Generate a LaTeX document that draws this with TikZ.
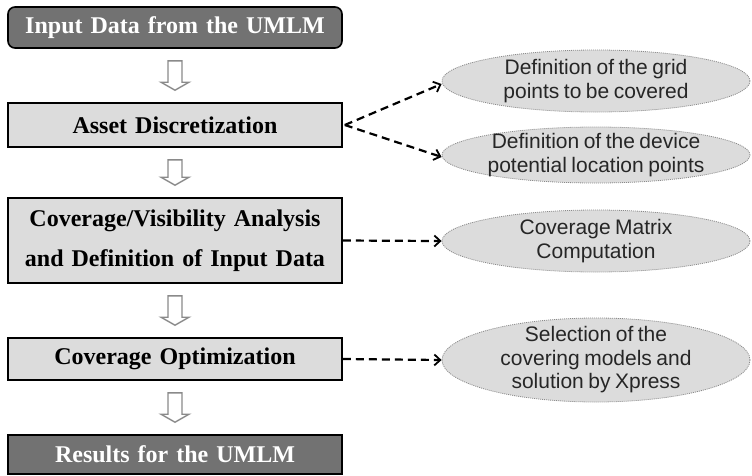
\documentclass[tikz,border=0pt]{standalone}
\usepackage{fontspec}
\setmainfont{Liberation Serif}
\newfontfamily\ellfont{Liberation Sans}
\usetikzlibrary{shapes.geometric,arrows.meta,calc}
\definecolor{darkbox}{HTML}{727272}
\definecolor{lightbox}{HTML}{DCDCDC}
\definecolor{arrgray}{HTML}{8A8A8A}
\newcommand\myboxfont{\fontsize{24}{40}\selectfont\bfseries\spaceskip=8pt plus 2pt minus 1pt\relax}
\newcommand\myellfont{\ellfont\fontsize{21}{23.5}\selectfont\spaceskip=4.5pt plus 1pt minus 1pt\relax}
\tikzset{
  stepbox/.style={draw=black, line width=1.6pt, fill=lightbox, minimum width=334pt,
    inner sep=0pt, align=center, font=\myboxfont, text=black},
  darkstep/.style={stepbox, fill=darkbox, text=white},
  ellbox/.style={ellipse, draw=arrgray, line width=0.8pt, dash pattern=on 1pt off 1pt,
    fill=lightbox, inner sep=0pt},
  elltext/.style={align=center, font=\myellfont, text=black!85, inner sep=0pt},
  dasharr/.style={draw=black, line width=2.2pt, dash pattern=on 8pt off 5pt,
    -{Straight Barb[length=6pt,width=11pt,line width=1.8pt]}},
  blockarr/.style={draw=arrgray, line width=1.4pt, fill=white, line join=miter},
}
\newcommand\blockarrow[2]{%
  \draw[blockarr] let \p1=($(#1.south)+(0,-12pt)$), \p2=($(#2.north)+(0,12pt)$) in
    (\x1-7pt,\y1) -- (\x1+7pt,\y1) -- (\x1+7pt,\y2+8pt) -- (\x1+14pt,\y2+8pt)
    -- (\x1,\y2) -- (\x1-14pt,\y2+8pt) -- (\x1-7pt,\y2+8pt) -- cycle;}
\begin{document}
\begin{tikzpicture}[x=1pt,y=1pt]
\useasboundingbox (0,0) rectangle (752,-475);
% main boxes
\node[darkstep, rounded corners=7pt, minimum height=41pt] (b1) at (175,-27.5) {Input Data from the UMLM};
\node[stepbox, minimum height=44pt] (b2) at (175,-125) {Asset Discretization};
\node[stepbox, minimum height=85pt] (b3) at (175,-240.5) {Coverage/Visibility Analysis\\and Definition of Input Data};
\node[stepbox, minimum height=42pt] (b4) at (175,-359) {Coverage Optimization};
\node[darkstep, minimum height=39pt] (b5) at (175,-454.5) {Results for the UMLM};
% block arrows
\blockarrow{b1}{b2}
\blockarrow{b2}{b3}
\blockarrow{b3}{b4}
\blockarrow{b4}{b5}
% ellipses
\node[ellbox, minimum width=308pt, minimum height=62pt] (e1) at (596,-81) {};
\node[elltext] (t1) at (e1) {Definition of the grid\\points to be covered};
\node[ellbox, minimum width=308pt, minimum height=56pt] (e2) at (596,-155) {};
\node[elltext] (t2) at (e2) {Definition of the device\\potential location points};
\node[ellbox, minimum width=308pt, minimum height=62pt] (e3) at (596,-241) {};
\node[elltext] (t3) at (e3) {Coverage Matrix\\Computation};
\node[ellbox, minimum width=308pt, minimum height=84pt] (e4) at (596,-360) {};
\node[elltext] (t4) at (e4) {Selection of the\\covering models and\\solution by Xpress};
% dashed connectors
\coordinate (b2e) at ($(b2.east)+(2pt,0)$);
\draw[dasharr] (b2e) -- ($(e1.west)+(0,-3pt)$);
\draw[dasharr] (b2e) -- ($(e2.west)+(0,-2pt)$);
\draw[dasharr] (b3.east) -- (e3.west);
\draw[dasharr] (b4.east) -- (e4.west);
\end{tikzpicture}
\end{document}
